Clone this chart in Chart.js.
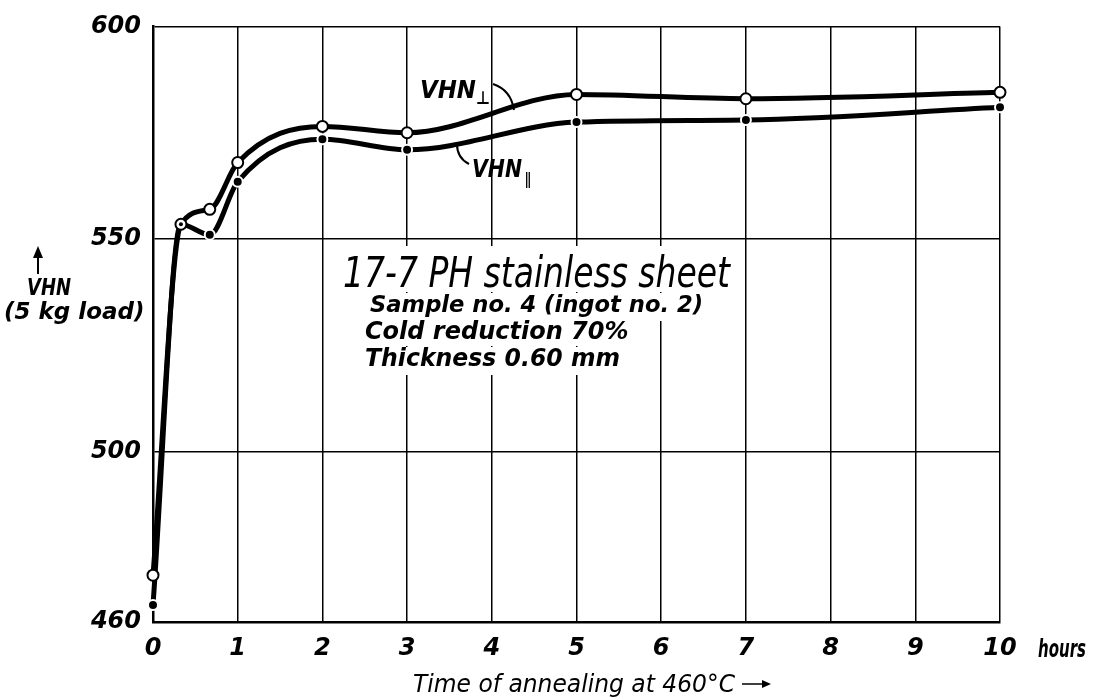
<!DOCTYPE html>
<html>
<head>
<meta charset="utf-8">
<script src="https://cdn.jsdelivr.net/npm/chart.js@4.4.0/dist/chart.umd.min.js"></script>
<style>
  html, body { margin: 0; padding: 0; background: #fff; }
</style>
</head>
<body>
<canvas id="vhn-chart" width="1093" height="700"></canvas>
<script>
// annealing time (hours) and hardness readings
const hours = [0, 0.33, 0.67, 1, 2, 3, 5, 7, 10];
const vhnPerp = [471, 553.5, 557, 568, 576.5, 575, 584, 583, 584.5];
const vhnPar = [464, 553.5, 551, 563.5, 573.5, 571, 577.5, 578, 581];

const xTicks = [0, 1, 2, 3, 4, 5, 6, 7, 8, 9, 10];
const yTicks = [460, 500, 550, 600];

const toPoints = (ys) => hours.map((h, i) => ({ x: h, y: ys[i] }));

const tickFont = { family: "DejaVu Sans", size: 24, weight: "bold", style: "italic" };

// draw text squeezed to a target width (the original lettering is condensed)
const fitText = (ctx, text, x, y, font, width) => {
  ctx.save();
  ctx.font = font;
  const w = ctx.measureText(text).width;
  ctx.translate(x, y);
  ctx.scale(Math.min(1, width / w), 1);
  ctx.fillText(text, 0, 0);
  ctx.restore();
};

const whiteBox = (ctx, x, y, w, h) => {
  ctx.save();
  ctx.fillStyle = "#fff";
  ctx.fillRect(x, y, w, h);
  ctx.restore();
};

const labelsPlugin = {
  id: "labels",
  afterDatasetsDraw(chart) {
    const ctx = chart.ctx;
    // little dot inside the shared open circle
    const up = chart.getDatasetMeta(0).data;
    vhnPar.forEach((v, i) => {
      if (v === vhnPerp[i]) {
        ctx.beginPath();
        ctx.arc(up[i].x, up[i].y, 2, 0, Math.PI * 2);
        ctx.fillStyle = "#000";
        ctx.fill();
      }
    });
  },
  afterDraw(chart) {
    const ctx = chart.ctx;
    ctx.save();
    ctx.fillStyle = "#000";
    ctx.strokeStyle = "#000";
    ctx.textBaseline = "alphabetic";
    ctx.textAlign = "left";

    // info block in the middle of the plot
    whiteBox(ctx, 336, 246, 400, 46);
    whiteBox(ctx, 362, 293, 346, 28);
    whiteBox(ctx, 358, 320, 278, 26);
    whiteBox(ctx, 358, 347, 268, 28);
    fitText(ctx, "17-7 PH stainless sheet", 343, 287, "oblique 42px 'DejaVu Sans'", 387);
    fitText(ctx, "Sample no. 4 (ingot no. 2)", 370, 312, "bold italic 23px 'DejaVu Sans'", 333);
    fitText(ctx, "Cold reduction 70%", 365, 339, "bold italic 24px 'DejaVu Sans'", 265);
    fitText(ctx, "Thickness 0.60 mm", 365, 366, "bold italic 24px 'DejaVu Sans'", 255);

    // curve labels
    fitText(ctx, "VHN", 420, 98, "bold italic 24px 'DejaVu Sans'", 56);
    fitText(ctx, "\u22A5", 476, 104, "bold 18px 'DejaVu Sans'", 14);
    fitText(ctx, "VHN", 472, 177, "bold italic 24px 'DejaVu Sans'", 50);
    fitText(ctx, "\u2016", 524, 184, "16px 'DejaVu Sans'", 12);
    ctx.lineWidth = 2;
    ctx.beginPath();
    ctx.moveTo(493, 84);
    ctx.quadraticCurveTo(511, 90, 514, 110);
    ctx.stroke();
    ctx.beginPath();
    ctx.moveTo(457, 144);
    ctx.quadraticCurveTo(457, 158, 469, 164);
    ctx.stroke();

    // y axis title with arrow
    ctx.lineWidth = 2;
    ctx.beginPath();
    ctx.moveTo(38, 274);
    ctx.lineTo(38, 254);
    ctx.stroke();
    ctx.beginPath();
    ctx.moveTo(38, 246);
    ctx.lineTo(33, 258);
    ctx.lineTo(43, 258);
    ctx.closePath();
    ctx.fill();
    fitText(ctx, "VHN", 27, 295, "bold italic 23px 'DejaVu Sans'", 44);
    fitText(ctx, "(5 kg load)", 4, 319, "bold italic 23px 'DejaVu Sans'", 142);

    // x axis unit and title
    fitText(ctx, "hours", 1038, 657, "bold italic 24px 'DejaVu Sans'", 48);
    fitText(ctx, "Time of annealing at 460\u00B0C", 413, 692, "oblique 25px 'DejaVu Sans'", 322);
    ctx.lineWidth = 1.5;
    ctx.beginPath();
    ctx.moveTo(742, 684);
    ctx.lineTo(766, 684);
    ctx.stroke();
    ctx.beginPath();
    ctx.moveTo(771, 684);
    ctx.lineTo(762, 680);
    ctx.lineTo(762, 688);
    ctx.closePath();
    ctx.fill();
    ctx.restore();
  },
};

const data = {
  datasets: [
    {
      label: "VHN perpendicular",
      data: toPoints(vhnPerp),
      borderColor: "#000",
      borderWidth: 5,
      cubicInterpolationMode: "monotone",
      pointRadius: 5.5,
      pointBackgroundColor: "#fff",
      pointBorderColor: "#000",
      pointBorderWidth: 2,
      clip: false,
      order: 0,
    },
    {
      label: "VHN parallel",
      data: toPoints(vhnPar),
      borderColor: "#000",
      borderWidth: 5,
      cubicInterpolationMode: "monotone",
      pointRadius: 5,
      pointBackgroundColor: "#000",
      pointBorderColor: "#fff",
      pointBorderWidth: 2,
      clip: false,
      order: 1,
    },
  ],
};

const options = {
  responsive: false,
  animation: false,
  devicePixelRatio: 1,
  layout: {
    padding: { top: 23, right: 93, left: 0, bottom: 0 },
  },
  scales: {
    x: {
      type: "linear",
      min: 0,
      max: 10,
      afterBuildTicks: (scale) => {
        scale.ticks = xTicks.map((v) => ({ value: v }));
      },
      afterFit: (scale) => {
        scale.height = 78;
      },
      ticks: {
        font: tickFont,
        color: "#000",
        padding: 12,
        maxRotation: 0,
        autoSkip: false,
      },
      grid: {
        color: "#000",
        lineWidth: 1.5,
        drawTicks: false,
      },
      border: { color: "#000", width: 2.5 },
    },
    y: {
      min: 460,
      max: 600,
      afterBuildTicks: (scale) => {
        scale.ticks = yTicks.map((v) => ({ value: v }));
      },
      afterFit: (scale) => {
        scale.width = 153;
      },
      ticks: {
        font: tickFont,
        color: "#000",
        padding: 12,
      },
      grid: {
        color: "#000",
        lineWidth: 1.5,
        drawTicks: false,
      },
      border: { color: "#000", width: 2.5 },
    },
  },
  plugins: {
    legend: { display: false },
    tooltip: { enabled: false },
  },
};

const vhnChart = new Chart(document.getElementById("vhn-chart"), {
  type: "line",
  data: data,
  options: options,
  plugins: [labelsPlugin],
});
</script>
</body>
</html>
